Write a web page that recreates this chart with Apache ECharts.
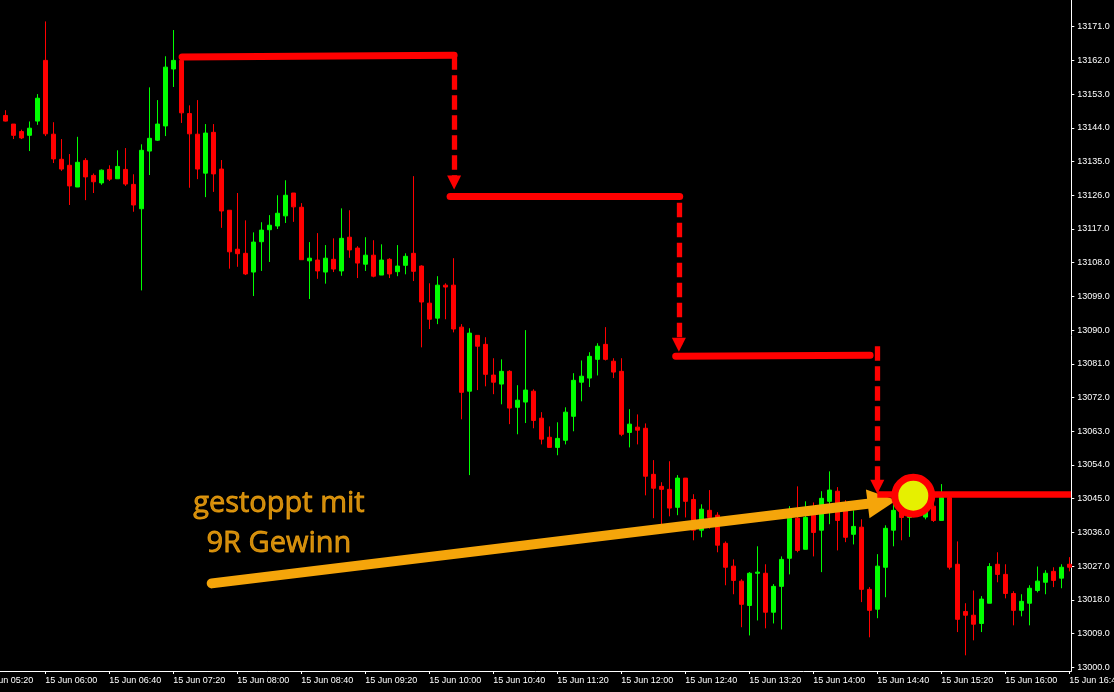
<!DOCTYPE html>
<html>
<head>
<meta charset="utf-8">
<script src="https://cdn.jsdelivr.net/npm/echarts@6/dist/echarts.min.js"></script>
<style>html,body{margin:0;padding:0;background:#000;}#c{width:1114px;height:692px;}</style>
</head>
<body>
<div id="c"></div>
<script>
// ---- data: 5-minute candles, index 0 = 15 Jun 05:35 ----
const opens = [13147.3,13145.0,13143.0,13142.0,13145.8,13162.0,13142.3,13135.6,13134.0,13128.2,
13135.3,13131.3,13129.3,13132.9,13130.4,13132.9,13128.9,13122.4,13137.8,13140.7,
13144.5,13159.7,13162.0,13147.8,13142.3,13131.9,13142.8,13133.0,13122.0,13111.6,
13110.5,13105.5,13113.6,13116.8,13117.8,13120.5,13126.6,13122.8,13108.5,13108.7,
13105.5,13108.9,13105.8,13114.8,13111.9,13107.6,13110.0,13104.7,13108.9,13105.6,
13107.3,13110.5,13107.1,13097.2,13093.2,13102.0,13102.0,13090.8,13073.7,13088.6,
13086.2,13078.0,13075.6,13079.0,13069.4,13070.8,13073.7,13066.5,13061.4,13058.7,
13060.6,13067.0,13076.1,13077.2,13082.2,13086.2,13081.7,13079.0,13062.7,13064.1,
13063.8,13051.5,13048.3,13047.5,13042.7,13050.5,13044.8,13036.6,13041.9,13040.6,
13033.1,13027.0,13023.0,13016.5,13025.1,13025.1,13014.7,13021.6,13029.1,13039.8,
13031.5,13040.6,13036.6,13044.3,13047.0,13041.9,13035.5,13037.4,13020.8,13015.5,
13026.7,13036.6,13045.0,13040.0,13046.0,13040.1,13043.0,13039.2,13045.3,13027.5,
13014.9,13013.9,13011.7,13017.1,13027.5,13024.8,13019.7,13015.2,13017.1,13020.5,
13022.7,13025.6,13023.8,13027.5];
const closes = [13145.8,13142.0,13141.3,13143.9,13151.9,13142.4,13135.7,13133.0,13128.5,13134.8,
13130.9,13129.6,13132.7,13130.3,13133.7,13129.0,13123.4,13138.0,13141.2,13145.0,
13160.2,13162.0,13148.0,13142.4,13133.0,13142.6,13131.7,13121.8,13110.9,13110.4,
13105.0,13113.5,13116.7,13118.0,13121.2,13126.0,13122.9,13108.8,13109.2,13105.8,
13109.2,13106.3,13114.5,13111.4,13107.9,13110.0,13104.4,13108.7,13105.0,13107.1,
13109.7,13105.7,13097.5,13092.9,13102.0,13101.5,13090.3,13073.4,13089.2,13085.7,
13078.2,13076.1,13079.0,13069.2,13071.3,13074.0,13065.9,13060.9,13058.7,13061.1,
13068.1,13076.6,13077.7,13083.0,13085.7,13082.2,13078.8,13062.2,13064.9,13063.3,
13051.0,13047.8,13047.5,13042.5,13050.5,13044.3,13036.6,13042.2,13040.0,13032.6,
13026.7,13023.2,13016.8,13025.1,13025.4,13014.7,13021.6,13028.8,13039.8,13031.2,
13040.0,13036.0,13045.1,13047.3,13039.2,13034.7,13037.6,13020.8,13015.2,13027.0,
13037.1,13041.9,13040.0,13045.0,13041.0,13046.0,13039.2,13045.3,13026.7,13012.8,
13013.9,13011.5,13018.2,13026.9,13024.8,13019.7,13015.2,13017.6,13021.1,13023.0,
13025.1,13023.2,13026.7,13026.7];
const lows = [13145.7,13141.0,13141.0,13137.8,13144.8,13141.8,13134.6,13132.5,13123.4,13128.2,
13124.7,13126.6,13128.8,13129.8,13130.4,13128.5,13121.6,13100.6,13131.4,13140.5,
13141.8,13154.9,13145.3,13128.0,13130.3,13125.5,13126.9,13117.3,13106.4,13106.9,
13104.7,13099.1,13105.8,13108.2,13117.0,13118.6,13118.9,13108.8,13098.3,13103.7,
13102.4,13105.5,13104.5,13109.3,13103.9,13105.8,13104.1,13104.7,13103.9,13104.4,
13104.9,13103.1,13085.4,13090.3,13091.6,13092.9,13089.4,13066.2,13051.3,13074.0,
13075.0,13072.9,13070.2,13064.9,13062.2,13065.2,13063.8,13059.5,13058.7,13056.6,
13059.5,13063.0,13071.0,13074.8,13077.9,13081.9,13077.2,13061.7,13058.7,13059.5,
13045.9,13039.8,13037.9,13040.3,13040.6,13040.0,13033.9,13034.7,13037.0,13030.7,
13021.9,13019.5,13010.7,13008.5,13012.5,13010.4,13011.7,13010.1,13024.8,13030.7,
13031.5,13029.6,13025.4,13038.2,13031.2,13033.4,13032.8,13017.4,13008.0,13013.1,
13018.7,13032.3,13033.9,13034.8,13040.5,13039.5,13038.8,13039.2,13026.1,13009.4,
13003.2,13007.2,13009.4,13017.1,13022.7,13018.4,13011.2,13013.6,13011.2,13020.0,
13019.5,13021.4,13021.1,13025.6];
const highs = [13148.7,13145.0,13143.5,13145.7,13153.0,13172.4,13145.5,13141.0,13137.0,13141.6,
13135.9,13131.8,13132.9,13134.0,13138.0,13138.6,13131.6,13139.6,13154.8,13151.4,
13163.1,13170.1,13162.5,13150.0,13151.4,13145.0,13145.0,13135.4,13122.0,13126.6,
13119.3,13116.1,13118.8,13120.7,13126.0,13130.0,13126.6,13123.9,13113.5,13115.9,
13112.7,13114.5,13122.5,13122.0,13112.4,13114.8,13114.0,13112.9,13109.2,13112.7,
13110.5,13131.1,13107.3,13102.5,13104.4,13102.5,13109.2,13091.6,13090.5,13088.6,
13088.1,13082.5,13082.2,13079.3,13075.3,13090.0,13074.2,13068.1,13064.3,13065.4,
13069.4,13078.5,13081.9,13084.1,13086.5,13090.8,13082.5,13082.5,13068.9,13067.5,
13065.1,13055.3,13049.4,13055.0,13051.3,13050.5,13046.2,13043.5,13047.3,13041.4,
13033.6,13028.8,13023.5,13025.4,13032.3,13027.5,13022.2,13029.6,13043.0,13048.3,
13044.3,13044.0,13047.0,13052.3,13048.1,13044.6,13041.9,13039.5,13021.4,13030.2,
13037.9,13044.0,13047.0,13049.0,13048.0,13048.0,13045.0,13048.9,13046.0,13033.6,
13017.1,13020.5,13019.0,13027.8,13030.7,13027.5,13020.3,13019.5,13021.9,13026.9,
13025.9,13026.7,13027.5,13029.4];

// x-axis ticks (candle index) and their labels
const xTickIdx = [-3,5,13,21,29,37,45,53,61,69,77,85,93,101,109,117,125,133];
const xTickLabels = ['15 Jun 05:20','15 Jun 06:00','15 Jun 06:40','15 Jun 07:20','15 Jun 08:00','15 Jun 08:40',
  '15 Jun 09:20','15 Jun 10:00','15 Jun 10:40','15 Jun 11:20','15 Jun 12:00','15 Jun 12:40',
  '15 Jun 13:20','15 Jun 14:00','15 Jun 14:40','15 Jun 15:20','15 Jun 16:00','15 Jun 16:40'];
// y-axis ticks
const yTicks = [13000,13009,13018,13027,13036,13045,13054,13063,13072,13081,13090,
  13099,13108,13117,13126,13135,13144,13153,13162,13171];

// annotations, in (candle index, price)
const stepLines = [
  [[22.1,13162.9],[56.1,13163.4]],
  [[55.6,13125.8],[84.3,13125.8]],
  [[83.8,13083.0],[108.1,13083.3]]
];
const stopLine = [[109.0,13046.2],[133.2,13046.2]];
const dashArrows = [
  [[56.1,13163.4],[56.1,13129.4]],
  [[84.2,13124.0],[84.2,13086.1]],
  [[109.0,13085.7],[109.0,13048.2]]
];
const orangeArrow = [[25.8,13022.4],[109.6,13044.1]];
const stopPoint = [113.5,13045.8];
const noteAnchor = [34.2,13038.2];
const noteText = 'gestoppt mit\n9R Gewinn';

// ---- layout ----
const GRID_LEFT = -24, GRID_RIGHT = 42.7, X0 = 5.3, PX = 8;
const xMin = (GRID_LEFT - X0) / PX;
const xMax = (1114 - GRID_RIGHT - X0) / PX;
const RED = '#ff0000', GREEN = '#00ff00', ORANGE = '#f5a50a', TEXT_ORANGE = '#ffab0f';
const axisFont = {color:'#ffffff', fontSize:9, fontFamily:'Liberation Sans'};

const candleData = opens.map((o,i)=>[i,o,closes[i],lows[i],highs[i]]);

const chart = echarts.init(document.getElementById('c'), null, {renderer:'canvas'});
chart.setOption({
  backgroundColor:'#000000',
  animation:false,
  grid:{left:GRID_LEFT, right:GRID_RIGHT, top:0, bottom:21, outerBoundsMode:'none', containLabel:false},
  xAxis:{
    type:'value', min:xMin, max:xMax, position:'bottom',
    axisLine:{show:true, onZero:false, lineStyle:{color:'#ffffff', width:1}},
    axisTick:{show:true, length:3, lineStyle:{color:'#ffffff'}, customValues:xTickIdx},
    axisLabel:Object.assign({show:true, align:'left', margin:5, customValues:xTickIdx,
      formatter:(v)=>{const k=xTickIdx.indexOf(Math.round(v)); return k>=0?xTickLabels[k]:'';}}, axisFont),
    splitLine:{show:false}
  },
  yAxis:{
    type:'value', position:'right', min:12999.01, max:13178.12, scale:true,
    axisLine:{show:true, onZero:false, lineStyle:{color:'#ffffff', width:1}},
    axisTick:{show:true, length:3, lineStyle:{color:'#ffffff'}, customValues:yTicks},
    axisLabel:Object.assign({show:true, margin:6, customValues:yTicks,
      formatter:(v)=>v.toFixed(1)}, axisFont),
    splitLine:{show:false}
  },
  series:[
    {
      type:'candlestick', data:candleData, barWidth:4, z:2,
      itemStyle:{color:GREEN, color0:RED, borderColor:GREEN, borderColor0:RED, borderWidth:1, borderColorDoji:RED}
    },
    {
      type:'lines', coordinateSystem:'cartesian2d', z:5, silent:true,
      symbol:['none','triangle'], symbolSize:29,
      lineStyle:{color:ORANGE, width:10, opacity:1, cap:'round', curveness:0},
      data:[{coords:orangeArrow}]
    },
    {
      type:'lines', coordinateSystem:'cartesian2d', z:6, silent:true,
      symbol:['none','none'],
      lineStyle:{color:RED, width:7, opacity:1, cap:'round', join:'round', curveness:0},
      data:stepLines.map(c=>({coords:c}))
    },
    {
      type:'lines', coordinateSystem:'cartesian2d', z:6, silent:true,
      symbol:['none','none'],
      lineStyle:{color:RED, width:6.5, opacity:1, cap:'butt', curveness:0},
      data:[{coords:stopLine}]
    },
    {
      type:'lines', coordinateSystem:'cartesian2d', z:6, silent:true,
      symbol:['none','triangle'], symbolSize:14,
      lineStyle:{color:RED, width:5.3, opacity:1, type:[14.5,5.5], cap:'butt', curveness:0},
      data:dashArrows.map(c=>({coords:c}))
    },
    {
      type:'scatter', z:8, silent:true, symbol:'circle', symbolSize:37,
      itemStyle:{color:'#e6f000', borderColor:RED, borderWidth:7, opacity:1},
      data:[stopPoint]
    },
    {
      type:'scatter', z:7, silent:true, symbolSize:0,
      itemStyle:{color:TEXT_ORANGE},
      label:{show:true, position:'inside', formatter:noteText, color:TEXT_ORANGE,
        textBorderWidth:0.8, textBorderColor:TEXT_ORANGE, textShadowBlur:0,
        fontFamily:'Open Sans', fontSize:29, lineHeight:40, align:'center', verticalAlign:'middle'},
      data:[noteAnchor]
    }
  ]
});
</script>
</body>
</html>
